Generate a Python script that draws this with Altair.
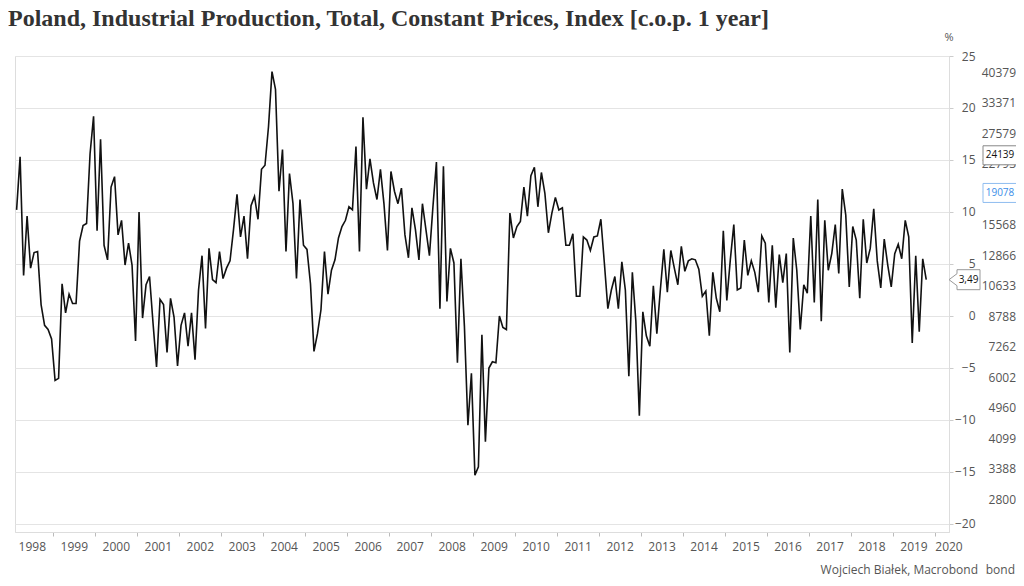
import altair as alt
import pandas as pd
import numpy as np

# ---- data ----
start_month = "1998-02"
values = [
    10.2, 15.3, 3.9, 9.6, 4.6, 6.1, 6.2, 1.1, -0.9, -1.3,
    -2.2, -6.2, -6.0, 3.1, 0.3, 2.1, 1.2, 1.2, 7.2, 8.7,
    8.9, 15.6, 19.2, 8.2, 17.0, 6.8, 5.4, 12.4, 13.4, 7.8,
    9.2, 4.9, 7.0, 4.9, -2.4, 10.0, -0.2, 3.0, 3.8, -0.7,
    -4.9, 1.6, 1.1, -3.5, 1.7, -0.1, -4.8, -0.9, 0.3, -2.9,
    0.3, -4.2, 2.5, 5.8, -1.2, 6.5, 3.5, 3.2, 6.2, 3.6,
    4.6, 5.3, 8.3, 11.7, 7.6, 9.6, 5.5, 10.6, 11.5, 9.3,
    14.1, 14.5, 18.2, 23.5, 21.8, 12.0, 16.0, 6.2, 13.7, 10.8,
    3.6, 11.2, 6.8, 6.4, 3.1, -3.4, -1.7, 0.6, 6.2, 2.1,
    4.4, 5.4, 7.5, 8.6, 9.2, 10.5, 10.2, 16.3, 6.2, 19.1,
    12.2, 15.1, 12.8, 11.2, 14.1, 10.8, 6.3, 13.9, 12.0, 10.8,
    12.3, 7.8, 5.6, 10.4, 8.3, 5.4, 10.8, 8.3, 5.8, 10.5,
    14.8, 0.7, 14.4, 1.4, 6.5, 5.1, -4.5, 5.5, -1.0, -10.5,
    -5.5, -15.3, -14.5, -1.8, -12.1, -5.0, -4.4, -4.5, 0.0, -1.1,
    -1.3, 9.9, 7.5, 8.6, 9.1, 12.4, 9.6, 13.5, 14.3, 10.5,
    13.8, 11.8, 8.0, 9.9, 11.4, 10.2, 10.4, 6.8, 6.8, 7.9,
    1.9, 1.9, 7.6, 7.3, 6.3, 7.6, 7.7, 9.3, 5.1, 0.7,
    2.5, 3.8, 0.7, 5.2, 2.5, -5.8, 4.2, -0.5, -9.6, 0.4,
    -1.9, -2.9, 2.9, -1.7, 2.5, 6.4, 2.3, 6.3, 4.6, 3.0,
    6.7, 4.3, 5.3, 5.5, 5.4, 4.5, 1.9, 2.4, -1.9, 4.2,
    1.7, 0.4, 8.2, 1.5, 5.4, 8.8, 2.5, 2.7, 7.3, 3.9,
    5.3, 4.2, 2.3, 7.7, 7.0, 1.3, 6.8, 0.8, 5.9, 3.2,
    6.0, -3.5, 7.5, 4.4, -1.3, 3.0, 2.2, 9.6, 1.3, 11.2,
    -0.5, 9.2, 4.4, 6.0, 8.8, 4.1, 12.2, 9.7, 2.8, 8.6,
    7.3, 1.7, 9.3, 5.1, 6.5, 10.3, 5.3, 2.7, 7.4, 4.9,
    2.8, 6.0, 6.9, 5.5, 9.2, 7.6, -2.6, 5.8, -1.5, 5.5, 3.49,
]
year_labels = list(range(1998, 2021))
y_ticks = [-20, -15, -10, -5, 0, 5, 10, 15, 20, 25]
last_label = "3,49"
title_text = "Poland, Industrial Production, Total, Constant Prices, Index [c.o.p. 1 year]"
unit_text = "%"
footer_left = "Wojciech Białek, Macrobond"
footer_right = "bond"
# leftover labels of a neighbouring (log) axis visible at the right edge
side_ticks = [40379, 33371, 27579, 22793, 18837, 15568, 12866, 10633, 8788, 7262, 6002, 4960, 4099, 3388, 2800]
side_marker_black = 24139
side_marker_blue = 19078

# ---- build tables ----
dates = pd.date_range(start_month, periods=len(values), freq="MS")
t = dates.year + (dates.month - 1) / 12 + 1 / 24
df = pd.DataFrame({"t": t, "v": values})

W, H = 934, 476
x_dom = [1998.087, 2020.334]
y_dom = [-20.77, 25]

labels_df = pd.DataFrame({
    "label": [str(y) for y in year_labels],
    "pos": [min(y + 0.5, x_dom[1]) for y in year_labels],
})

x_scale = alt.Scale(domain=x_dom, nice=False, zero=False)
y_scale = alt.Scale(domain=y_dom, nice=False, zero=False)

FONT = "Open Sans"

line = alt.Chart(df).mark_line(color="#111111", strokeWidth=1.6).encode(
    x=alt.X("t:Q", scale=x_scale,
            axis=alt.Axis(values=list(range(1999, 2021)), labels=False, ticks=True,
                          tickSize=4, tickColor="#bbbbbb", domain=True,
                          domainColor="#dddddd", grid=False, title=None)),
    y=alt.Y("v:Q", scale=y_scale,
            axis=alt.Axis(orient="right", values=y_ticks, grid=True, gridColor="#e4e4e4",
                          domain=True, domainColor="#dddddd", tickSize=4,
                          tickColor="#cccccc", labelAlign="right", labelPadding=22,
                          labelFontSize=12, labelColor="#555555", labelFont=FONT,
                          title=None)),
)

year_text = alt.Chart(labels_df).mark_text(
    fontSize=12, font=FONT, color="#555555", baseline="middle", align="center"
).encode(
    x=alt.X("pos:Q", scale=x_scale),
    y=alt.value(H + 15),
    text="label:N",
)

last_df = df.tail(1).assign(lbl=last_label)
callout_box = alt.Chart(last_df).mark_point(
    shape="M0,0 L8,-6 L8,-10 L31,-10 L31,10 L8,10 L8,6 Z",
    size=4, filled=True, fill="white", stroke="#999999", strokeWidth=1, opacity=1,
).encode(x=alt.value(W), y=alt.Y("v:Q", scale=y_scale))
callout_text = alt.Chart(last_df).mark_text(
    fontSize=10, font=FONT, color="#111111", align="center", baseline="middle"
).encode(x=alt.value(W + 19.5), y=alt.Y("v:Q", scale=y_scale), text="lbl:N")

deco_df = pd.DataFrame({"title": [title_text], "unit": [unit_text],
                        "f1": [footer_left], "f2": [footer_right]})
title_mark = alt.Chart(deco_df).mark_text(
    font="Liberation Serif", fontWeight="bold", fontSize=24, color="#333333",
    align="left", baseline="alphabetic"
).encode(x=alt.value(-7), y=alt.value(-30), text="title:N")
unit_mark = alt.Chart(deco_df).mark_text(
    font=FONT, fontSize=11, color="#555555", align="center", baseline="middle"
).encode(x=alt.value(W), y=alt.value(-18), text="unit:N")
foot1 = alt.Chart(deco_df).mark_text(
    font=FONT, fontSize=12, color="#555555", align="right", baseline="middle"
).encode(x=alt.value(963), y=alt.value(H + 38), text="f1:N")
foot2 = alt.Chart(deco_df).mark_text(
    font=FONT, fontSize=12, color="#555555", align="right", baseline="middle"
).encode(x=alt.value(1000), y=alt.value(H + 38), text="f2:N")

# neighbouring log axis residue
log_scale = alt.Scale(type="log", domain=[2292, 44898], nice=False, zero=False)
side_df = pd.DataFrame({"v": side_ticks, "lbl": [str(s) for s in side_ticks]})
side_text = alt.Chart(side_df).mark_text(
    font=FONT, fontSize=12, color="#555555", align="right", baseline="middle"
).encode(x=alt.value(1001), y=alt.Y("v:Q", scale=log_scale, axis=None), text="lbl:N")
mk_df = pd.DataFrame({"v": [side_marker_black, side_marker_blue],
                      "lbl": [str(side_marker_black), str(side_marker_blue)],
                      "col": ["black", "blue"]})
mk_box = alt.Chart(mk_df).mark_point(
    shape="M-17,-9.5 L17,-9.5 L17,9.5 L-17,9.5 Z", size=4, filled=True,
    fill="white", strokeWidth=1, opacity=1,
).encode(
    x=alt.value(985), y=alt.Y("v:Q", scale=log_scale, axis=None),
    stroke=alt.Color("col:N", scale=alt.Scale(domain=["black", "blue"],
                                              range=["#888888", "#8fbdf0"]), legend=None),
)
mk_text = alt.Chart(mk_df).mark_text(
    font=FONT, fontSize=10, align="center", baseline="middle"
).encode(
    x=alt.value(985), y=alt.Y("v:Q", scale=log_scale, axis=None), text="lbl:N",
    color=alt.Color("col:N", scale=alt.Scale(domain=["black", "blue"],
                                             range=["#111111", "#3b8ee8"]), legend=None),
)

side = alt.layer(side_text, mk_box, mk_text)
main = alt.layer(line, year_text, callout_box, callout_text, title_mark, unit_mark, foot1, foot2)

chart = alt.layer(main, side).resolve_scale(y="independent", color="independent", stroke="independent").properties(
    width=W, height=H,
    autosize=alt.AutoSizeParams(type="none"),
    padding={"left": 7, "top": 48, "right": 67, "bottom": 46},
).configure_view(stroke=None).configure(background="white")

chart.save("out.html", embed_options={"renderer": "svg", "actions": False})
